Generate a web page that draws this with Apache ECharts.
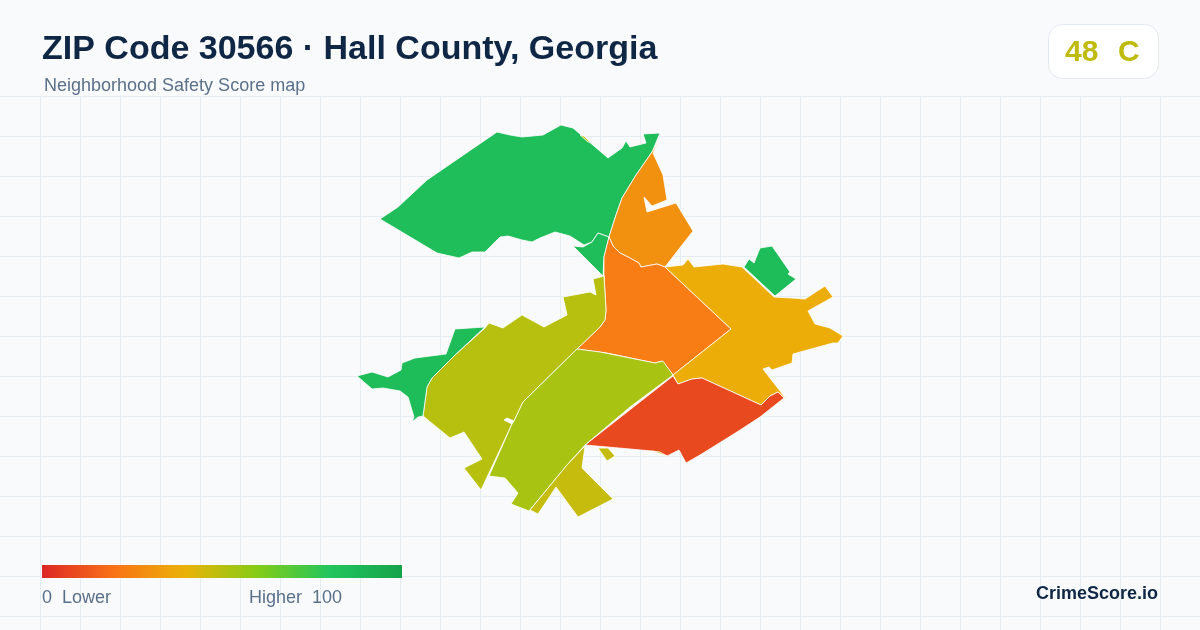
<!DOCTYPE html>
<html>
<head>
<meta charset="utf-8">
<title>ZIP Code 30566</title>
<style>
html, body { margin: 0; padding: 0; background: #f8fafc; }
#main { width: 1200px; height: 630px; }
</style>
<script src="https://cdn.jsdelivr.net/npm/echarts@6/dist/echarts.min.js"></script>
</head>
<body>
<div id="main"></div>
<script>
// values
var regionNames = ['Northwest', 'Creek', 'Northeast', 'Central', 'East', 'Southeast', 'West', 'Middle', 'South', 'Shore', 'Ridge'];
var regionScores = [84, 84, 29, 23, 38, 9, 50, 53, 47, 85, 85];
var rampColors = ['#dc2626', '#f97316', '#eab308', '#84cc16', '#22c55e', '#16a34a'];

// region outlines
var northwest = [[380,219],[398,207],[427,180],[497,132],[510,135],[522,137],[543,135],[561,125],[573,128],[608,158],[622,148],[626,141],[630,147],[646,143],[643,134],[660,133],[652,152],[636,175],[622,198],[616,215],[609,237],[598,233],[592,242],[584,245],[570,236],[555,232],[540,238],[532,242],[522,240],[508,236],[500,237],[485,252],[472,252],[459,258],[437,253]];
var creek = [[573,246],[583,247],[592,242],[598,233],[609,237],[604,257],[603,276]];
var northeast = [[659,141],[653,153],[663,175],[667,200],[652,206],[644,197],[647,212],[676,203],[693,231],[665,267],[657,264],[641,267],[639,263],[628,257],[620,253],[613,246],[609,237],[616,215],[622,198],[636,175],[652,152]];
var central = [[609,237],[613,246],[620,253],[628,257],[639,263],[641,267],[657,264],[665,267],[731,329],[673,375],[662,361],[655,363],[607,353],[577,349],[600,327],[605,320],[606,310],[604,275],[604,257]];
var east = [[665,267],[683,265],[688,259],[694,267],[723,264],[742,267],[774,297],[792,298],[805,299],[825,286],[833,297],[808,311],[815,324],[830,328],[843,336],[838,343],[833,343],[793,354],[792,363],[772,370],[769,367],[763,369],[787,400],[778,392],[770,396],[761,405],[702,378],[692,379],[678,384],[673,375],[731,329]];
var southeast = [[673,376],[678,384],[692,379],[702,378],[761,405],[770,396],[778,392],[784,398],[760,417],[737,432],[700,455],[686,463],[679,450],[667,456],[652,451],[630,449],[585,445]];
var west = [[423,416],[427,387],[432,378],[455,355],[485,328],[489,323],[503,328],[522,315],[544,327],[567,315],[563,297],[590,292],[596,295],[593,279],[604,276],[606,310],[605,320],[600,327],[577,349],[523,402],[514,421],[507,418],[504,420],[512,424],[481,490],[464,468],[482,459],[464,432],[450,438]];
var middle = [[577,349],[600,352],[655,363],[663,361],[673,375],[630,407],[585,445],[567,465],[529,511],[511,504],[518,493],[505,478],[489,476],[512,424],[514,421],[523,402]];
var south = [[585,446],[582,468],[613,499],[578,517],[556,487],[538,514],[530,510],[567,465]];
var southBit1 = [[598,448],[608,448],[615,456],[607,461]];
var southBit2 = [[652,451],[660,452],[667,456]];
var southBit3 = [[580,135],[584,136],[590,142],[588,142]];
var shore = [[357,376],[372,372],[388,377],[401,370],[402,363],[415,358],[446,354],[455,329],[485,327],[455,355],[432,378],[427,387],[423,416],[418,417],[412,422],[414,417],[408,397],[400,391],[383,388],[372,389]];
var ridge = [[744,267],[749,259],[754,263],[760,248],[772,246],[790,272],[788,274],[796,279],[775,296]];

var regionShapes = [[northwest], [creek], [northeast], [central], [east], [southeast], [west], [middle], [south, southBit1, southBit2, southBit3], [shore], [ridge]];

var features = [];
var mapData = [];
var minX = 1e9, minY = 1e9, maxX = -1e9, maxY = -1e9;
for (var i = 0; i < regionNames.length; i++) {
    var polys = [];
    for (var j = 0; j < regionShapes[i].length; j++) {
        var ring = regionShapes[i][j].slice();
        ring.forEach(function (p) {
            minX = Math.min(minX, p[0]); maxX = Math.max(maxX, p[0]);
            minY = Math.min(minY, p[1]); maxY = Math.max(maxY, p[1]);
        });
        ring.push(ring[0]);
        polys.push([ring]);
    }
    features.push({
        type: 'Feature',
        properties: { name: regionNames[i] },
        geometry: { type: 'MultiPolygon', coordinates: polys }
    });
    mapData.push({ name: regionNames[i], value: regionScores[i] });
}
echarts.registerMap('zip30566', { type: 'FeatureCollection', features: features });

// faint background grid
var graphics = [];
for (var gx = 40; gx < 1200; gx += 40) {
    graphics.push({ type: 'line', silent: true, shape: { x1: gx + 0.5, y1: 96, x2: gx + 0.5, y2: 630 }, style: { stroke: '#e5edf2', lineWidth: 1 } });
}
for (var gy = 96; gy < 630; gy += 40) {
    graphics.push({ type: 'line', silent: true, shape: { x1: 0, y1: gy + 0.5, x2: 1200, y2: gy + 0.5 }, style: { stroke: '#e5edf2', lineWidth: 1 } });
}
function label(x, y, text, font, fill, align) {
    graphics.push({
        type: 'text', silent: true, x: x, y: y,
        style: { text: text, font: font, fill: fill, textAlign: align || 'left', textVerticalAlign: 'middle' }
    });
}
graphics.push({ type: 'rect', silent: true, shape: { x: 1048.5, y: 24.5, width: 110, height: 54, r: 14 }, style: { fill: '#ffffff', stroke: '#e2e8f0', lineWidth: 1 } });

// legend bar, square corners (the visualMap bar comes out rounded)
var rampStops = rampColors.map(function (c, k) {
    return { offset: k / (rampColors.length - 1), color: c };
});
graphics.push({
    type: 'rect', silent: true,
    shape: { x: 42, y: 565, width: 360, height: 13 },
    style: { fill: new echarts.graphic.LinearGradient(0, 0, 1, 0, rampStops) }
});

var sans = '"Liberation Sans", Arial, sans-serif';
label(42, 50, 'ZIP Code 30566 · Hall County, Georgia', 'bold 34px ' + sans, '#0f2744');
label(44, 86, 'Neighborhood Safety Score map', '18px ' + sans, '#5b7089');
label(1065, 53, '48', 'bold 30px ' + sans, '#bfbb0d');
label(1118, 53, 'C', 'bold 30px ' + sans, '#bfbb0d');
label(42, 598, '0  Lower', '18px ' + sans, '#5b7089');
label(249, 598, 'Higher  100', '18px ' + sans, '#5b7089');
label(1158, 594, 'CrimeScore.io', 'bold 18px ' + sans, '#0f2744', 'right');

var myChart = echarts.init(document.getElementById('main'), null, { renderer: 'canvas' });
myChart.setOption({
    backgroundColor: '#f8fafc',
    animation: false,
    graphic: graphics,
    visualMap: {
        type: 'continuous',
        show: false,
        min: 0,
        max: 100,
        inRange: { color: rampColors },
        seriesIndex: 0
    },
    series: [{
        type: 'map',
        map: 'zip30566',
        projection: {
            project: function (p) { return p; },
            unproject: function (p) { return p; }
        },
        left: minX,
        top: minY,
        width: maxX - minX,
        height: maxY - minY,
        roam: false,
        silent: true,
        label: { show: false },
        itemStyle: { borderColor: '#ffffff', borderWidth: 0.8 },
        emphasis: { disabled: true },
        data: mapData
    }]
});
window.onresize = myChart.resize;
</script>
</body>
</html>
